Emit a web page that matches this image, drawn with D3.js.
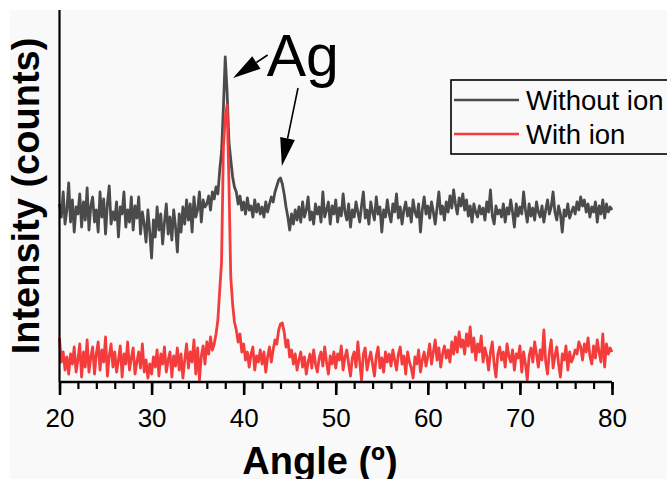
<!DOCTYPE html>
<html>
<head>
<meta charset="utf-8">
<script src="https://cdn.jsdelivr.net/npm/d3@7"></script>
<style>
  html, body { margin: 0; padding: 0; background: #ffffff; }
  svg { display: block; }
  text { font-family: "Liberation Sans", Arial, sans-serif; }
</style>
</head>
<body>
<svg id="chart" width="667" height="479"></svg>
<script>
// XRD scan: 2-theta from 20 to 80 degrees in 0.2 degree steps
const angleStart = 20;
const angleStep = 0.2;

// Intensity (arbitrary counts), sample without ion
const withoutIon = [
  178, 165, 190, 158, 172, 199, 160, 182, 150, 175,
  168, 188, 155, 180, 162, 194, 152, 176, 185, 160,
  172, 150, 190, 165, 183, 148, 178, 196, 158, 170,
  162, 180, 145, 175, 168, 190, 155, 172, 160, 185,
  152, 176, 164, 185, 148, 170, 158, 140, 172, 150,
  124, 162, 145, 175, 152, 168, 138, 160, 178, 148,
  165, 142, 172, 155, 130, 168, 150, 175, 158, 182,
  162, 178, 150, 185, 165, 172, 190, 160, 182, 175,
  178, 186, 172, 190, 183, 195, 188, 212, 230, 275,
  325, 290, 240, 222, 205, 195, 190, 178, 186, 172,
  180, 168, 184, 172, 176, 165, 182, 170, 178, 168,
  175, 165, 180, 170, 178, 185, 180, 190, 196, 202,
  204, 198, 188, 175, 165, 152, 168, 158, 172, 162,
  175, 160, 180, 165, 172, 185, 162, 170, 158, 178,
  168, 175, 160, 190, 165, 172, 180, 158, 176, 168,
  182, 160, 174, 166, 188, 170, 162, 178, 155, 172,
  165, 180, 170, 160, 176, 190, 164, 172, 158, 180,
  170, 162, 185, 168, 175, 150, 172, 165, 182, 168,
  160, 178, 170, 188, 164, 175, 158, 172, 180, 166,
  174, 160, 182, 170, 165, 178, 150, 172, 185, 168,
  176, 164, 180, 170, 158, 174, 190, 168, 176, 162,
  180, 170, 186, 174, 192, 178, 168, 184, 176, 188,
  172, 182, 166, 176, 160, 178, 170, 165, 176, 168,
  174, 162, 180, 170, 192, 166, 158, 176, 168, 172,
  165, 178, 160, 174, 168, 182, 170, 155, 178, 166,
  175, 168, 190, 172, 160, 178, 166, 174, 162, 180,
  170, 165, 176, 160, 172, 182, 168, 175, 190, 170,
  162, 176, 168, 150, 172, 166, 178, 164, 170, 175,
  168, 180, 172, 185, 176, 182, 170, 178, 165, 175,
  170, 180, 160, 176, 168, 182, 164, 178, 170, 175,
  172
];

// Intensity (arbitrary counts), sample with ion
const withIon = [
  44, 20, 30, 12, 25, 8, 28, 18, 35, 10,
  22, 38, 5, 30, 15, 42, 10, 25, 35, 8,
  28, 40, 12, 32, 20, 45, 6, 26, 38, 15,
  30, 10, 22, 36, 5, 28, 18, 40, 12, 24,
  34, 8, 20, 30, 14, 38, 10, 22, 4, 18,
  8, 25, 15, 32, 6, 28, 18, 35, 10, 22,
  30, 5, 26, 16, 34, 12, 28, 4, 22, 38,
  14, 30, 20, 42, 8, 34, 2, 26, 36, 18,
  40, 28, 45, 32, 38, 48, 62, 92, 120, 235,
  265, 277, 200, 105, 78, 60, 52, 40, 48, 30,
  38, 22, 30, 15, 28, 35, 12, 26, 20, 32,
  18, 30, 10, 25, 35, 20, 32, 42, 38, 52,
  58, 59, 50, 35, 42, 25, 32, 18, 28, 12,
  22, 30, 15, 25, 8, 20, 28, 14, 32, 18,
  10, 24, 30, 16, 35, 20, 8, 26, 18, 30,
  14, 28, 22, 36, 12, 25, 32, 18, 6, 24,
  30, 15, 40, 20, 2, 28, 34, 12, 22, 30,
  18, 6, 26, 35, 14, 24, 10, 30, 20, 28,
  16, 32, 22, 12, 28, 35, 18, 26, 8, 30,
  20, 14, 4, 25, 18, 32, 10, 22, 30, 16,
  26, 38, 18, 30, 42, 22, 34, 15, 28, 36,
  24, 32, 20, 40, 28, 45, 30, 50, 35, 42,
  28, 48, 36, 55, 30, 44, 22, 38, 30, 46,
  20, 34, 26, 12, 30, 40, 18, 5, 28, 35,
  22, 30, 15, 38, 26, 20, 32, 12, 28, 24,
  36, 10, 30, 18, 2, 26, 34, 20, 40, 28,
  15, 32, 22, 52, 20, 8, 30, 42, 14, 26,
  35, 18, 5, 28, 22, 36, 12, 30, 20, 25,
  32, 28, 40, 35, 22, 38, 30, 44, 26, 18,
  36, 24, 42, 30, 20, 48, 15, 38, 28, 34,
  30
];

const xTicks = [20, 30, 40, 50, 60, 70, 80];
const seriesNames = ["Without ion", "With ion"];
const seriesColors = ["#4b4b4b", "#f43c3c"];

// Annotation: label and arrows pointing at the Ag reflections (data coordinates)
const agLabel = { text: "Ag", angle: 42.5, counts: 306 };
const agArrows = [
  { from: [42.6, 327], to: [38.85, 304] },
  { from: [45.9, 294], to: [44.15, 216] }
];

const svg = d3.select("#chart");
const W = 667, H = 479;
const margin = { left: 59.5, right: 55, top: 10, bottom: 97 };

// Panel background
svg.append("rect").attr("x", 10).attr("y", 10).attr("width", W - 10).attr("height", H - 10)
  .attr("fill", "#f9f9f9");

const x = d3.scaleLinear().domain([20, 80]).range([margin.left, W - margin.right]);
const y = d3.scaleLinear().domain([0, 372]).range([H - margin.bottom, margin.top]);

const toPoints = arr => arr.map((v, i) => [angleStart + i * angleStep, v]);
const line = d3.line().x(d => x(d[0])).y(d => y(d[1]));

// Spectra (red drawn on top)
[withoutIon, withIon].forEach((arr, k) => {
  svg.append("path")
    .datum(toPoints(arr))
    .attr("fill", "none")
    .attr("stroke", seriesColors[k])
    .attr("stroke-width", 2.8)
    .attr("stroke-linejoin", "round")
    .attr("d", line);
});

// X axis with major and minor ticks
const xAxis = svg.append("g").attr("transform", `translate(0,${y(0)})`);
xAxis.call(d3.axisBottom(x).tickValues(d3.range(20, 80.1, 2)).tickSize(7).tickFormat(""))
  .call(g => g.selectAll(".tick line").attr("stroke", "#000").attr("stroke-width", 2.2));
xAxis.append("g")
  .call(d3.axisBottom(x).tickValues(xTicks).tickSize(13).tickPadding(14).tickFormat(d3.format("d")))
  .call(g => g.select(".domain").remove())
  .call(g => g.selectAll(".tick line").attr("stroke", "#000").attr("stroke-width", 2.6))
  .call(g => g.selectAll(".tick text")
    .attr("fill", "#000")
    .attr("font-size", 26)
    .attr("font-family", "'Liberation Sans', Arial, sans-serif"));
xAxis.select(".domain").attr("stroke", "#000").attr("stroke-width", 2.6).attr("d", `M${x(20)},0H${x(80)}`);

// Y axis line only
svg.append("line")
  .attr("x1", x(20)).attr("x2", x(20))
  .attr("y1", y(372)).attr("y2", y(0))
  .attr("stroke", "#000").attr("stroke-width", 2.2);

// Axis titles
svg.append("text")
  .attr("x", 320).attr("y", 474)
  .attr("text-anchor", "middle")
  .attr("font-size", 38).attr("font-weight", "bold")
  .text("Angle (º)");

svg.append("text")
  .attr("transform", `translate(39,${(y(0) + y(372)) / 2}) rotate(-90)`)
  .attr("text-anchor", "middle")
  .attr("font-size", 38).attr("font-weight", "bold")
  .text("Intensity (counts)");

// Ag annotation
svg.append("text")
  .attr("x", x(agLabel.angle)).attr("y", y(agLabel.counts))
  .attr("font-size", 59)
  .text(agLabel.text);

agArrows.forEach(a => {
  const x1 = x(a.from[0]), y1 = y(a.from[1]);
  const x2 = x(a.to[0]), y2 = y(a.to[1]);
  const ang = Math.atan2(y2 - y1, x2 - x1);
  const headLen = 28, headHalf = 7.5;
  const bx = x2 - headLen * Math.cos(ang), by = y2 - headLen * Math.sin(ang);
  svg.append("line")
    .attr("x1", x1).attr("y1", y1).attr("x2", bx).attr("y2", by)
    .attr("stroke", "#000").attr("stroke-width", 1.6);
  const px = -Math.sin(ang), py = Math.cos(ang);
  svg.append("path")
    .attr("d", `M${x2},${y2}L${bx + px * headHalf},${by + py * headHalf}L${bx - px * headHalf},${by - py * headHalf}Z`)
    .attr("fill", "#000");
});

// Legend
const legend = svg.append("g");
legend.append("rect")
  .attr("x", 451).attr("y", 80).attr("width", 230).attr("height", 74)
  .attr("fill", "#f9f9f9").attr("stroke", "#000").attr("stroke-width", 1.6);
seriesNames.forEach((name, k) => {
  const ly = 100 + k * 34;
  legend.append("line")
    .attr("x1", 454).attr("x2", 519).attr("y1", ly).attr("y2", ly)
    .attr("stroke", seriesColors[k]).attr("stroke-width", 2.4);
  legend.append("text")
    .attr("x", 526).attr("y", ly + 10)
    .attr("font-size", 27.5)
    .attr("fill", "#000")
    .text(name);
});
</script>
</body>
</html>
